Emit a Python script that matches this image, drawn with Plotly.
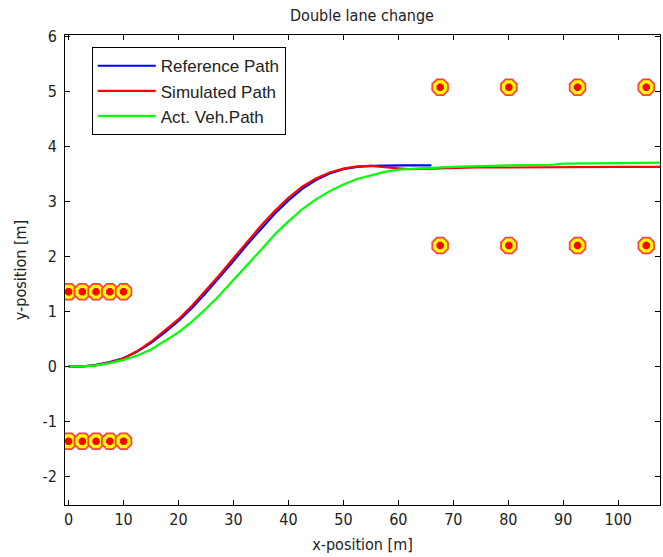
import plotly.graph_objects as go

# Lane-change manoeuvre: reference, simulated and actual vehicle paths
ref_x = [0, 2.5, 5, 7.5, 10, 12.5, 15, 17.5, 20, 22.5, 25, 27.5, 30, 32.5, 35,
         37.5, 40, 42.5, 45, 47.5, 50, 52.5, 55, 58, 61, 66]
ref_y = [0, 0.0, 0.03, 0.08, 0.15, 0.27, 0.43, 0.62, 0.83, 1.07, 1.34, 1.62, 1.92,
         2.22, 2.51, 2.78, 3.02, 3.23, 3.39, 3.51, 3.59, 3.63, 3.65, 3.66, 3.66, 3.66]

sim_x = [0, 2.5, 5, 7.5, 10, 12.5, 15, 17.5, 20, 22.5, 25, 27.5, 30, 32.5, 35,
         37.5, 40, 42.5, 45, 47.5, 50, 52.5, 55, 58, 62, 66, 74, 80, 90, 100, 107.6]
sim_y = [0, 0.0, 0.02, 0.07, 0.15, 0.28, 0.45, 0.65, 0.86, 1.11, 1.38, 1.67, 1.97,
         2.27, 2.56, 2.83, 3.07, 3.27, 3.42, 3.53, 3.60, 3.64, 3.65, 3.62, 3.59,
         3.60, 3.62, 3.62, 3.63, 3.63, 3.63]

act_x = [0, 2.5, 5, 7.5, 10, 12.5, 15, 17.5, 20, 22.5, 25, 27.5, 30, 32.5, 35,
         37.5, 40, 42.5, 45, 47.5, 50, 52.5, 55, 57.5, 60, 62.5, 65, 70, 75, 80,
         88, 90, 100, 107.6]
act_y = [0, 0.0, 0.02, 0.06, 0.12, 0.20, 0.31, 0.46, 0.62, 0.82, 1.05, 1.30, 1.57,
         1.85, 2.12, 2.40, 2.64, 2.86, 3.04, 3.19, 3.31, 3.41, 3.48, 3.54, 3.58,
         3.60, 3.61, 3.63, 3.65, 3.66, 3.67, 3.69, 3.70, 3.71]

# Cone positions
cone_x = [0, 2.5, 5, 7.5, 10, 0, 2.5, 5, 7.5, 10,
          67.6, 80.1, 92.6, 105.1, 67.6, 80.1, 92.6, 105.1]
cone_y = [1.36, 1.36, 1.36, 1.36, 1.36, -1.36, -1.36, -1.36, -1.36, -1.36,
          5.08, 5.08, 5.08, 5.08, 2.2, 2.2, 2.2, 2.2]

x_ticks = [0, 10, 20, 30, 40, 50, 60, 70, 80, 90, 100]
y_ticks = [-2, -1, 0, 1, 2, 3, 4, 5, 6]
y_ticklabels = ["-2", "-1", "0", "1", "2", "3", "4", "5", "6"]

NARROW = "DejaVu Sans Condensed, Liberation Sans Narrow, sans-serif"

fig = go.Figure()

fig.add_trace(go.Scatter(x=cone_x, y=cone_y, mode="markers", showlegend=False,
                         hoverinfo="skip",
                         marker=dict(symbol="octagon", size=17, color="#ffff00",
                                     line=dict(color="#ff4040", width=1.8))))
fig.add_trace(go.Scatter(x=cone_x, y=cone_y, mode="markers", showlegend=False,
                         hoverinfo="skip",
                         marker=dict(symbol="octagon", size=8, color="#ff0000",
                                     line=dict(width=0))))

fig.add_trace(go.Scatter(x=ref_x, y=ref_y, mode="lines", name="Reference Path",
                         line=dict(color="#0000ff", width=2.2)))
fig.add_trace(go.Scatter(x=sim_x, y=sim_y, mode="lines", name="Simulated Path",
                         line=dict(color="#ff0000", width=2.2)))
fig.add_trace(go.Scatter(x=act_x, y=act_y, mode="lines", name="Act. Veh.Path",
                         line=dict(color="#00ff00", width=2.2)))

axis_common = dict(showline=True, linecolor="black", linewidth=1, mirror="allticks",
                   ticks="inside", ticklen=5, tickcolor="black", showgrid=False,
                   zeroline=False, tickfont=dict(family=NARROW, size=16, color="#222"))

fig.update_layout(
    width=663, height=557,
    margin=dict(l=65, r=3, t=35, b=52),
    paper_bgcolor="white", plot_bgcolor="white",
    title=dict(text="Double lane change", x=0.546, xanchor="center", y=0.973,
               yanchor="middle", font=dict(family=NARROW, size=16, color="#222")),
    xaxis=dict(range=[-0.65, 107.6], tickvals=x_ticks,
               title=dict(text="x-position [m]", standoff=10,
                          font=dict(family=NARROW, size=16, color="#222")),
               **axis_common),
    yaxis=dict(range=[-2.52, 6.03], tickvals=y_ticks, ticktext=y_ticklabels,
               ticklabelstandoff=4,
               title=dict(text="y-position [m]", standoff=11,
                          font=dict(family=NARROW, size=16, color="#222")),
               **axis_common),
    legend=dict(x=0.045, y=0.974, xanchor="left", yanchor="top",
                bgcolor="white", bordercolor="black", borderwidth=1,
                itemwidth=58, tracegroupgap=0,
                font=dict(family="Liberation Sans, Arial, sans-serif", size=17,
                          color="#222")),
    showlegend=True,
)

fig.write_html("out.html")
